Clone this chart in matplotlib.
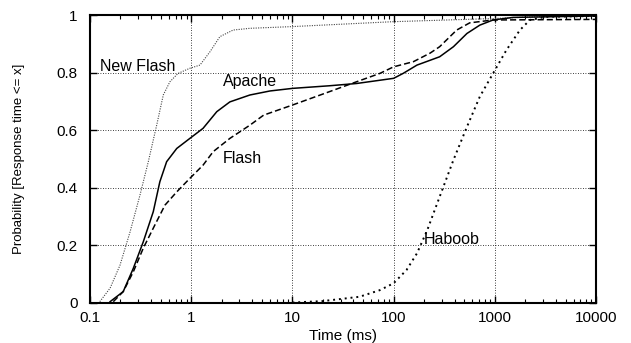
import matplotlib
matplotlib.use("Agg")
import matplotlib.pyplot as plt
from matplotlib.ticker import FixedLocator, LogLocator, NullFormatter

plt.rcParams['font.family'] = ['Liberation Sans', 'DejaVu Sans']

# values (time in ms, cumulative probability)
newflash_t = [0.125, 0.158, 0.198, 0.249, 0.312, 0.377, 0.456, 0.53, 0.616, 0.74, 0.97, 1.22,
              1.53, 1.92, 2.6, 3.8, 10, 98, 960, 2400, 10000]
newflash_p = [0.003, 0.05, 0.13, 0.246, 0.374, 0.49, 0.617, 0.722, 0.768, 0.797, 0.815, 0.826,
              0.872, 0.925, 0.948, 0.954, 0.96, 0.977, 0.988, 0.994, 0.997]

apache_t = [0.158, 0.213, 0.268, 0.336, 0.422, 0.49, 0.572, 0.72, 0.97, 1.31, 1.79, 2.41, 3.8,
            6.0, 10, 23, 43, 100, 124, 170, 285, 390, 530, 710, 960, 1520, 10000]
apache_p = [0.003, 0.038, 0.119, 0.211, 0.316, 0.42, 0.49, 0.536, 0.571, 0.606, 0.664, 0.698, 0.722,
            0.736, 0.745, 0.754, 0.762, 0.78, 0.797, 0.826, 0.855, 0.89, 0.936, 0.965, 0.983, 0.992, 0.997]

flash_t = [0.17, 0.213, 0.268, 0.336, 0.438, 0.551, 0.72, 0.97, 1.31, 1.65, 2.41, 3.8, 5.2, 10,
           21, 43, 73, 100, 157, 230, 285, 420, 565, 960, 10000]
flash_p = [0.003, 0.038, 0.107, 0.189, 0.27, 0.339, 0.385, 0.432, 0.478, 0.525, 0.571, 0.617, 0.652, 0.687,
           0.728, 0.768, 0.797, 0.82, 0.838, 0.868, 0.89, 0.948, 0.973, 0.983, 0.985]

haboob_t = [10, 20, 46, 73, 100, 134, 170, 215, 285, 390, 530, 710, 960, 1300, 1770, 2220, 3200, 10000]
haboob_p = [0.0, 0.005, 0.02, 0.043, 0.067, 0.113, 0.171, 0.252, 0.368, 0.496, 0.611, 0.716, 0.797,
            0.878, 0.948, 0.983, 0.994, 0.997]

fig = plt.figure(figsize=(6.31, 3.43), dpi=100)
ax = fig.add_axes([0.1426, 0.118, 0.802, 0.838])

ax.plot(newflash_t, newflash_p, color='#444444', lw=0.8, linestyle=(0, (1, 1.2)))
ax.plot(apache_t, apache_p, color='black', lw=1.1, linestyle='-')
ax.plot(flash_t, flash_p, color='black', lw=1.1, linestyle=(0, (4, 2)))
ax.plot(haboob_t, haboob_p, color='black', lw=1.4, linestyle=(0, (1, 2)))

ax.set_xscale('log')
ax.set_xlim(0.1, 10000)
ax.set_ylim(0, 1)
ax.xaxis.set_major_locator(FixedLocator([0.1, 1, 10, 100, 1000, 10000]))
ax.set_xticklabels(['0.1', '1', '10', '100', '1000', '10000'])
ax.xaxis.set_minor_locator(LogLocator(base=10, subs=range(2, 10)))
ax.xaxis.set_minor_formatter(NullFormatter())
ax.set_yticks([0, 0.2, 0.4, 0.6, 0.8, 1])
ax.set_yticklabels(['0', '0.2', '0.4', '0.6', '0.8', '1'])

ax.tick_params(which='both', direction='in', top=True, right=True, labelsize=11)
ax.tick_params(axis='y', pad=9)
ax.tick_params(axis='x', pad=6)
ax.tick_params(which='major', length=5, width=1)
ax.tick_params(which='minor', length=3, width=0.8)
ax.grid(True, which='major', color='black', linestyle=(0, (1, 2)), lw=0.6)
for s in ax.spines.values():
    s.set_linewidth(1.5)

ax.text(0.127, 0.82, 'New Flash', fontsize=11.5, va='center', ha='left')
ax.text(2.05, 0.768, 'Apache', fontsize=11.5, va='center', ha='left')
ax.text(2.05, 0.50, 'Flash', fontsize=11.5, va='center', ha='left')
ax.text(200, 0.22, 'Haboob', fontsize=11.5, va='center', ha='left')

ax.set_xlabel('Time (ms)', fontsize=11, va='center')
ax.xaxis.set_label_coords(0.5, -0.117)
ax.set_ylabel('Probability [Response time <= x]', fontsize=9.5, va='center')
ax.yaxis.set_label_coords(-0.14, 0.5)

fig.savefig('out.png', dpi=100)
